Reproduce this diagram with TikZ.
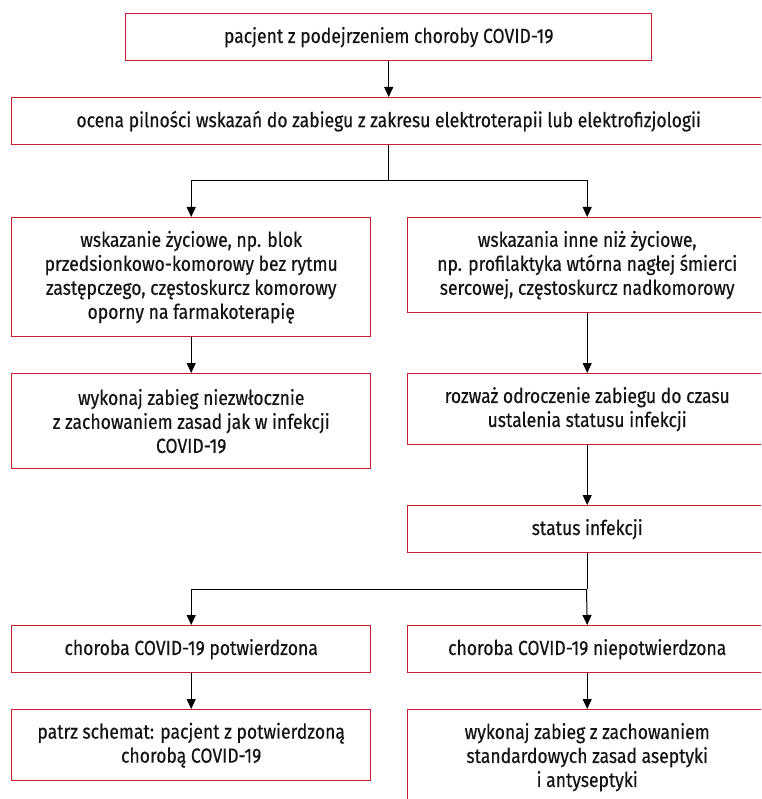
\documentclass[tikz,border=0pt]{standalone}
\usepackage{fontspec}
\setmainfont{Fira Sans}
\newfontfamily\boxfont{Fira Sans}[FakeBold=0.4, FakeStretch=0.86]
\usetikzlibrary{arrows.meta}
\definecolor{boxred}{RGB}{200,30,45}
\definecolor{txt}{RGB}{20,20,20}
\tikzset{
  box/.style={draw=boxred, line width=1.4pt, fill=white, inner sep=0pt, align=center,
    text=txt, font=\boxfont\fontsize{20.4}{24}\selectfont, anchor=north west},
  arr/.style={draw=black, line width=1pt, -{Triangle[length=10pt,width=9pt]}},
  ln/.style={draw=black, line width=1pt}
}
\begin{document}
\begin{tikzpicture}[x=1pt,y=-1pt]
\useasboundingbox (0,0) rectangle (761,799);
\clip (0,0) rectangle (761,799);
\fill[white] (0,0) rectangle (761,799);
% boxes
\node[box, minimum width=526pt, minimum height=47pt] (top) at (125,13) {pacjent z podejrzeniem choroby COVID-19};
\node[box, minimum width=754pt, minimum height=47pt] (ocena) at (11,97) {ocena pilności wskazań do zabiegu z zakresu elektroterapii lub elektrofizjologii};
\node[box, minimum width=359pt, minimum height=119pt] (lw) at (11,217) {wskazanie życiowe, np. blok\\przedsionkowo-komorowy bez rytmu\\zastępczego, częstoskurcz komorowy\\oporny na farmakoterapię};
\node[box, minimum width=359pt, minimum height=95pt] (rw) at (407,217) {wskazania inne niż życiowe,\\np. profilaktyka wtórna nagłej śmierci\\sercowej, częstoskurcz nadkomorowy};
\node[box, minimum width=359pt, minimum height=95pt] (l2) at (11,373) {wykonaj zabieg niezwłocznie\\z zachowaniem zasad jak w infekcji\\COVID-19};
\node[box, minimum width=359pt, minimum height=71pt] (r2) at (407,373) {rozważ odroczenie zabiegu do czasu\\ustalenia statusu infekcji};
\node[box, minimum width=359pt, minimum height=47pt] (status) at (407,505) {status infekcji};
\node[box, minimum width=359pt, minimum height=47pt] (cp) at (11,625) {choroba COVID-19 potwierdzona};
\node[box, minimum width=359pt, minimum height=47pt] (np) at (407,625) {choroba COVID-19 niepotwierdzona};
\node[box, minimum width=359pt, minimum height=71pt] (pat) at (11,709) {patrz schemat: pacjent z potwierdzoną\\chorobą COVID-19};
\node[box, minimum width=359pt, minimum height=95pt] (wyk) at (407,709) {wykonaj zabieg z zachowaniem\\standardowych zasad aseptyki\\i antyseptyki};
% connectors
\coordinate (j1) at (388,181);
\coordinate (j2) at (586.5,589);
\draw[arr] (top.south) -- (ocena.north);
\draw[ln] (ocena.south) -- (ocena.south |- j1);
\draw[arr] (j1) -| (lw.north);
\draw[arr] (j1) -| (rw.north);
\draw[arr] (lw.south) -- (l2.north);
\draw[arr] (rw.south) -- (r2.north);
\draw[arr] (r2.south) -- (status.north);
\draw[ln] (status.south) -- (status.south |- j2);
\draw[arr] (j2) -| (cp.north);
\draw[arr] (j2) -- (np.north);
\draw[arr] (cp.south) -- (pat.north);
\draw[arr] (np.south) -- (wyk.north);
\end{tikzpicture}
\end{document}
